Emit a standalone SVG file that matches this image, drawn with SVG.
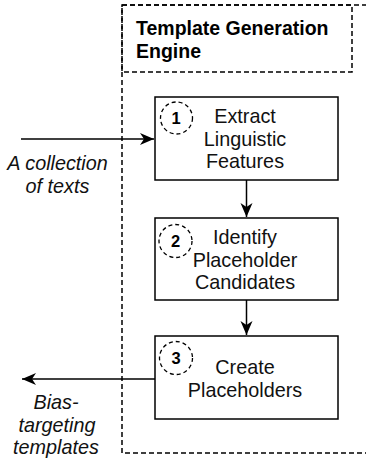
<svg xmlns="http://www.w3.org/2000/svg" width="366" height="462" viewBox="0 0 366 462">
<defs>
<style>
.dash{fill:none;stroke:#000;stroke-width:1.5;stroke-dasharray:5 3;}
.box{fill:#fff;stroke:#000;stroke-width:1.5;}
.num{fill:none;stroke:#000;stroke-width:1.3;stroke-dasharray:4 3;}
.t{font-family:"Liberation Sans",Arial,sans-serif;font-size:19.8px;fill:#111;text-anchor:middle;}
.n{font-family:"Liberation Sans",Arial,sans-serif;font-size:16.5px;font-weight:bold;fill:#000;text-anchor:middle;}
.h{font-family:"Liberation Sans",Arial,sans-serif;font-size:19.5px;font-weight:bold;fill:#000;}
.i{font-family:"Liberation Sans",Arial,sans-serif;font-size:19.8px;font-style:italic;fill:#111;text-anchor:middle;}
.c{fill:none;stroke:#000;stroke-width:1.5;}
</style>
<marker id="arr" markerWidth="16" markerHeight="14" refX="14" refY="6" orient="auto" markerUnits="userSpaceOnUse">
<path d="M0,0 L14,6 L0,12 L4,6 Z" fill="#000"/>
</marker>
</defs>
<g id="engine">
<rect class="dash" x="122" y="5" width="260" height="448"/>
<rect class="dash" x="122" y="5" width="230" height="67"/>
<text class="h" x="136" y="35">Template Generation</text>
<text class="h" x="136" y="58">Engine</text>
</g>
<g id="connectors">
<path class="c" d="M21,139 H154" marker-end="url(#arr)"/>
<path class="c" d="M246.5,180 V217" marker-end="url(#arr)"/>
<path class="c" d="M246.5,300 V335" marker-end="url(#arr)"/>
<path class="c" d="M155,379 H22" marker-end="url(#arr)"/>
</g>
<g id="step1">
<rect class="box" x="155" y="97" width="183" height="83"/>
<circle class="num" cx="176.5" cy="118" r="16"/>
<text class="n" x="176" y="124">1</text>
<text class="t" x="245" y="123">Extract</text>
<text class="t" x="245" y="145.5">Linguistic</text>
<text class="t" x="245" y="168">Features</text>
</g>
<g id="step2">
<rect class="box" x="155" y="218" width="183" height="82"/>
<circle class="num" cx="175.5" cy="241" r="16.5"/>
<text class="n" x="175.5" y="247">2</text>
<text class="t" x="245" y="244">Identify</text>
<text class="t" x="245" y="266.5">Placeholder</text>
<text class="t" x="245" y="289">Candidates</text>
</g>
<g id="step3">
<rect class="box" x="155" y="336" width="183" height="83"/>
<circle class="num" cx="176" cy="358" r="16.5"/>
<text class="n" x="176" y="364">3</text>
<text class="t" x="245" y="374">Create</text>
<text class="t" x="245" y="396.5">Placeholders</text>
</g>
<g id="input-label">
<text class="i" x="57.5" y="170">A collection</text>
<text class="i" x="57.5" y="192.5">of texts</text>
</g>
<g id="output-label">
<text class="i" x="56" y="409">Bias-</text>
<text class="i" x="57" y="431.5">targeting</text>
<text class="i" x="56" y="454">templates</text>
</g>
</svg>
